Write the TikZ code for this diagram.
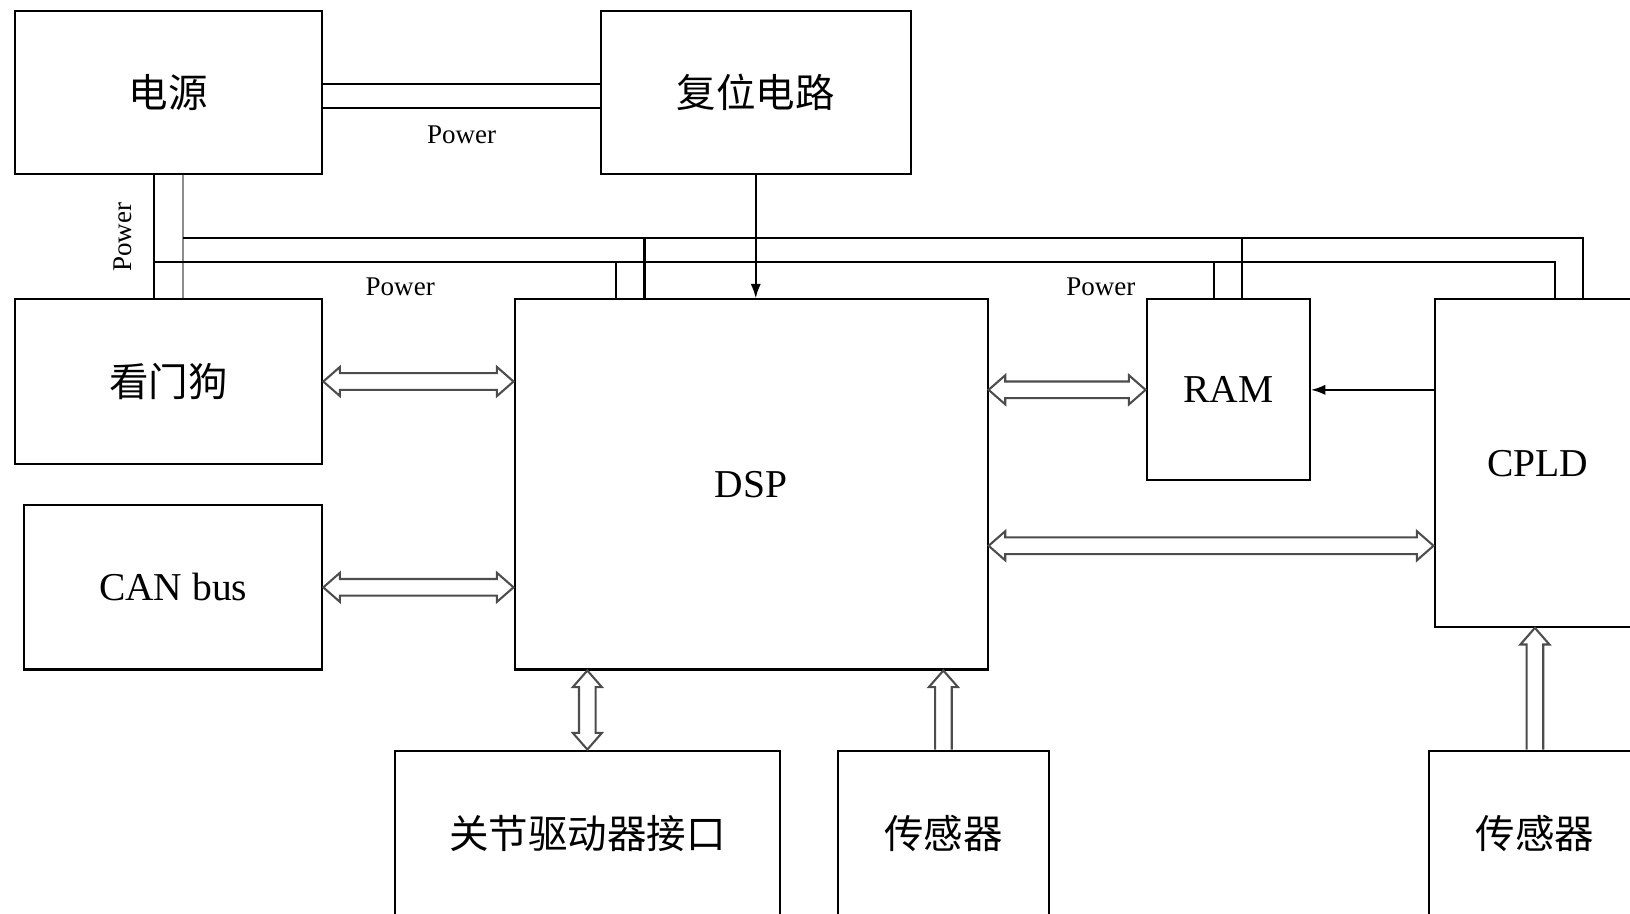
\documentclass[tikz,border=0pt]{standalone}
\usepackage{fontspec}
\setmainfont{Liberation Serif}
\newfontfamily\cjk{Noto Sans CJK SC}
\usetikzlibrary{calc,arrows.meta}
\tikzset{
  box/.style={draw, line width=1pt, inner sep=0pt, font=\fontsize{19}{22}\selectfont},
  wire/.style={draw, line width=1pt},
  gwire/.style={draw=black!45, line width=1pt},
  hollow/.style={draw=black!70, line width=1pt, line join=miter},
  tip/.style={-{Latex[length=7pt,width=5pt]}},
  pw/.style={font=\fontsize{13}{15}\selectfont, inner sep=0pt}
}
\newcommand\hdbl[2]{\draw[hollow] (#1) -- ++(16,-14) -- ++(0,6) -- ($(#2)+(-16,-8)$) -- ++(0,-6) -- (#2) -- ++(-16,14) -- ++(0,-6) -- ($(#1)+(16,8)$) -- ++(0,6) -- cycle;}
\newcommand\vdbl[2]{\draw[hollow] (#1) -- ++(-14,16) -- ++(6,0) -- ($(#2)+(-8,-16)$) -- ++(-6,0) -- (#2) -- ++(14,-16) -- ++(-6,0) -- ($(#1)+(8,16)$) -- ++(6,0) -- cycle;}
\newcommand\vsgl[2]{\draw[hollow] ($(#2)+(-8,0)$) -- ($(#1)+(-8,16)$) -- ++(-6,0) -- (#1) -- ++(14,16) -- ++(-6,0) -- ($(#2)+(8,0)$);}
\begin{document}
\begin{tikzpicture}[x=0.5pt,y=-0.5pt]
\useasboundingbox (0,0) rectangle (1568,879);
\clip (0,0) rectangle (1568,879);
% boxes
\node[box, minimum width=148pt, minimum height=78pt] (ps) at (162,89) {\cjk 电源};
\node[box, minimum width=149pt, minimum height=78pt] (rst) at (727,89) {\cjk 复位电路};
\node[box, minimum width=148pt, minimum height=79pt] (wd) at (162,367) {\cjk 看门狗};
\node[box, minimum width=143.5pt, minimum height=79pt] (can) at (166.5,565) {CAN bus};
\node[box, minimum width=227.5pt, minimum height=178pt] (dsp) at (722.5,466) {DSP};
\node[box, minimum width=78.5pt, minimum height=87pt] (ram) at (1181.5,375) {RAM};
\node[box, minimum width=99pt, minimum height=157.5pt] (cpld) at (1479,445.5) {CPLD};
\node[box, minimum width=185pt, minimum height=79.5pt] (jd) at (565,801.5) {\cjk 关节驱动器接口};
\node[box, minimum width=101.5pt, minimum height=79.5pt] (s1) at (907.5,801.5) {\cjk 传感器};
\node[box, minimum width=101.5pt, minimum height=79.5pt] (s2) at (1476.5,801.5) {\cjk 传感器};
% power: supply to reset
\draw[wire] ($(ps.east)+(0,-8)$) -- ($(rst.west)+(0,-8)$);
\draw[wire] ($(ps.east)+(0,15)$) -- ($(rst.west)+(0,15)$);
\node[pw] (p1) at (444,130) {Power};
% power: supply down to watchdog
\draw[wire] ($(ps.south)+(-14,0)$) -- ($(wd.north)+(-14,0)$);
\draw[gwire] ($(ps.south)+(14,0)$) -- ($(wd.north)+(14,0)$);
\node[pw, rotate=90] (p2) at (118,228) {Power};
% power buses
\coordinate (busA) at (148,252);
\coordinate (busB) at (176,229);
\draw[wire] (busA) -| ($(cpld.north)+(17,0)$);
\draw[wire] (busB) -| ($(cpld.north)+(44,0)$);
\draw[wire] ($(dsp.north)+(-129.5,0)$) -- ++(0,-36);
\draw[wire] ($(dsp.north)+(-102.5,0)$) -- ++(0,-59);
\draw[wire] ($(ram.north)+(-13.5,0)$) -- ++(0,-36);
\draw[wire] ($(ram.north)+(13.5,0)$) -- ++(0,-59);
\node[pw] (p3) at (385,276) {Power};
\node[pw] (p4) at (1059,276) {Power};
% signal arrows
\draw[wire, tip] (rst.south) -- (rst.south |- dsp.north);
\draw[wire, tip] (cpld.west |- ram.east) -- (ram.east);
% hollow bus arrows
\hdbl{wd.east}{wd.east -| dsp.west}
\hdbl{can.east}{can.east -| dsp.west}
\hdbl{ram.west -| dsp.east}{ram.west}
\coordinate (dc) at ($(dsp.east)+(0,59)$);
\hdbl{dc}{dc -| cpld.west}
\vdbl{jd.north |- dsp.south}{jd.north}
\vsgl{s1.north |- dsp.south}{s1.north}
\vsgl{s2.north |- cpld.south}{s2.north}
\end{tikzpicture}
\end{document}
